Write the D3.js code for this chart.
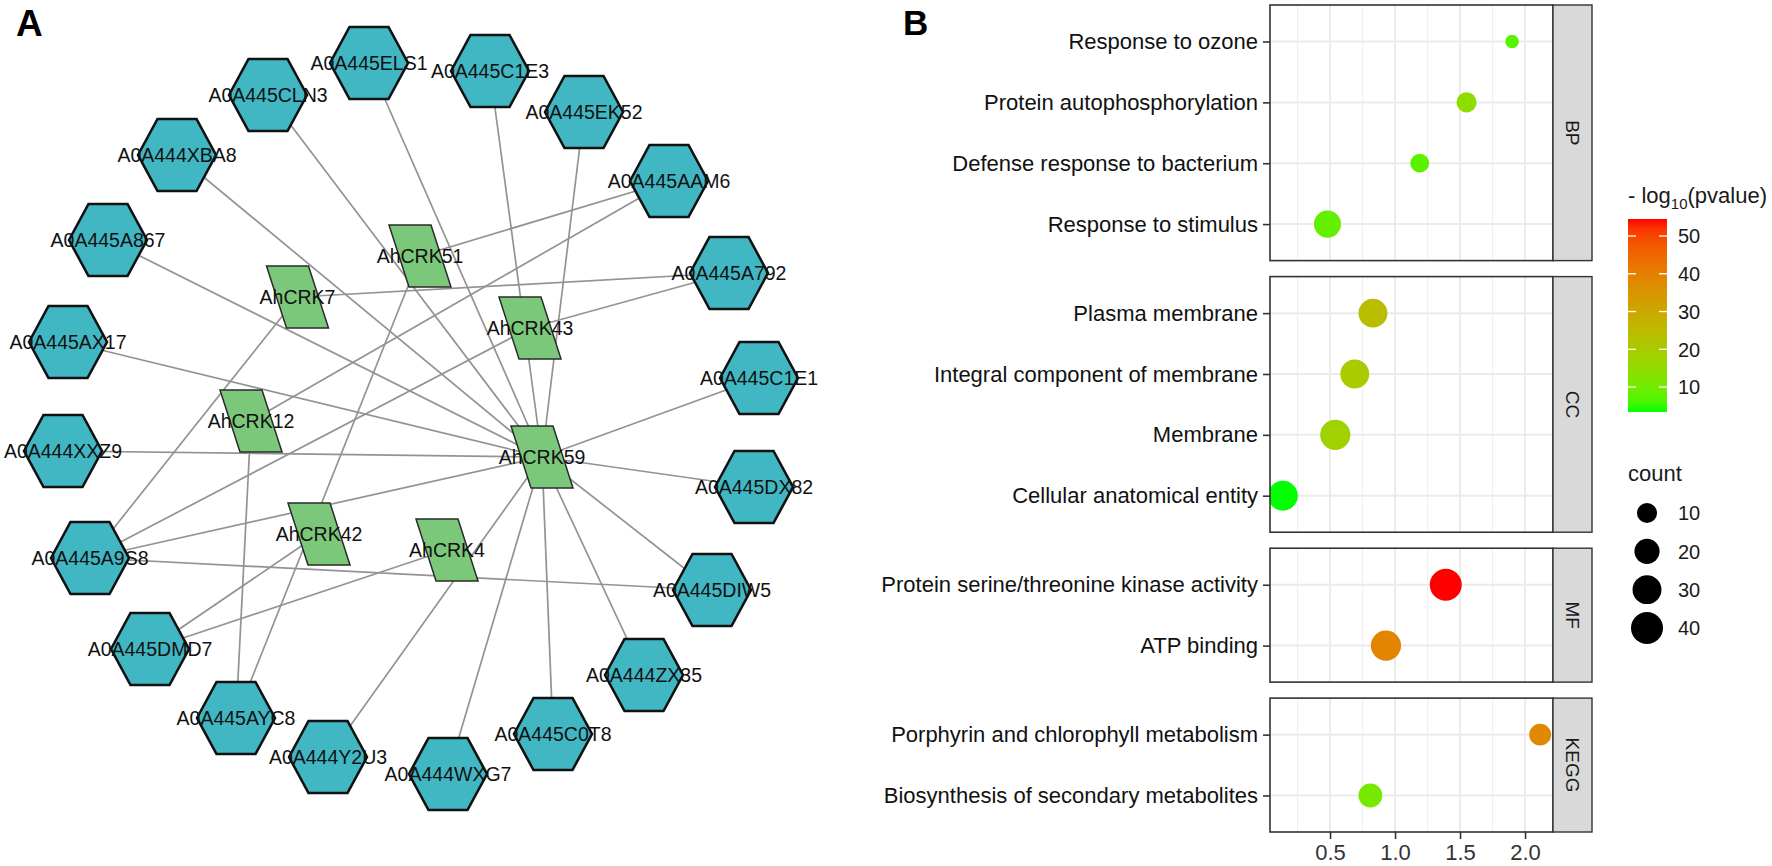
<!DOCTYPE html>
<html>
<head>
<meta charset="utf-8">
<script src="https://cdn.jsdelivr.net/npm/d3@7"></script>
<style>
  body { margin: 0; background: #fff; }
  svg { display: block; }
  text { font-family: "Liberation Sans", Arial, sans-serif; }
</style>
</head>
<body>
<div id="chart"></div>
<script>
// =============================================================================
// PANEL A DATA: CRK hubs, target proteins, layout (layout units) and edges
// =============================================================================

const hubNames = ["AhCRK51", "AhCRK7", "AhCRK43", "AhCRK12", "AhCRK59", "AhCRK42", "AhCRK4"];
const hubX     = [42.0, 29.75, 53.0, 25.1, 54.2, 31.9, 44.7];
const hubY     = [25.6, 29.7, 32.8, 42.1, 45.7, 53.4, 55.0];

const targetNames = [
  "A0A445ELS1", "A0A445CLN3", "A0A444XBA8", "A0A445A867", "A0A445AX17",
  "A0A444XXZ9", "A0A445A9S8", "A0A445DMD7", "A0A445AYC8", "A0A444Y2U3",
  "A0A444WXG7", "A0A445C0T8", "A0A444ZX35", "A0A445DIW5", "A0A445DX82",
  "A0A445C1E1", "A0A445A792", "A0A445AAM6", "A0A445EK52", "A0A445C1E3"
];
const targetX = [36.9, 26.8, 17.7, 10.8, 6.8, 6.3, 9.0, 15.0, 23.6, 32.8,
                 44.8, 55.3, 64.4, 71.2, 75.4, 75.9, 72.9, 66.9, 58.4, 49.0];
const targetY = [6.3, 9.5, 15.5, 24.0, 34.2, 45.1, 55.8, 64.9, 71.8, 75.7,
                 77.4, 73.4, 67.5, 59.0, 48.7, 37.8, 27.3, 18.1, 11.2, 7.1];

const edges = [
  ["AhCRK59", "A0A445ELS1"], ["AhCRK59", "A0A445CLN3"], ["AhCRK59", "A0A444XBA8"],
  ["AhCRK59", "A0A445A867"], ["AhCRK59", "A0A445AX17"], ["AhCRK59", "A0A444XXZ9"],
  ["AhCRK59", "A0A445A9S8"], ["AhCRK59", "A0A445C1E3"], ["AhCRK59", "A0A445EK52"],
  ["AhCRK59", "A0A445C1E1"], ["AhCRK59", "A0A445DX82"], ["AhCRK59", "A0A445DIW5"],
  ["AhCRK59", "A0A444ZX35"], ["AhCRK59", "A0A445C0T8"], ["AhCRK59", "A0A444WXG7"],
  ["AhCRK59", "A0A444Y2U3"],
  ["AhCRK51", "A0A445AAM6"], ["AhCRK51", "A0A445AYC8"],
  ["AhCRK7",  "A0A445A792"], ["AhCRK7",  "A0A445A9S8"],
  ["AhCRK43", "A0A445A792"], ["AhCRK43", "A0A445A9S8"],
  ["AhCRK12", "A0A445AAM6"], ["AhCRK12", "A0A445AYC8"],
  ["AhCRK42", "A0A445DMD7"],
  ["AhCRK4",  "A0A445DMD7"],
  ["A0A445A9S8", "A0A445DIW5"]
];

// =============================================================================
// PANEL B DATA: enrichment terms
// =============================================================================

const termNames = [
  "Response to ozone", "Protein autophosphorylation", "Defense response to bacterium", "Response to stimulus",
  "Plasma membrane", "Integral component of membrane", "Membrane", "Cellular anatomical entity",
  "Protein serine/threonine kinase activity", "ATP binding",
  "Porphyrin and chlorophyll metabolism", "Biosynthesis of secondary metabolites"
];
const termGroup  = ["BP", "BP", "BP", "BP", "CC", "CC", "CC", "CC", "MF", "MF", "KEGG", "KEGG"];
const groupNames = ["BP", "CC", "MF", "KEGG"];
const richX      = [1.90, 1.55, 1.19, 0.48, 0.83, 0.69, 0.54, 0.137, 1.39, 0.93, 2.116, 0.81];
const termCount  = [3, 10, 8, 25, 30, 30, 34, 33, 40, 34, 13, 17];
const negLogP    = [7, 14.5, 7.5, 8.5, 24, 20, 18, 3.4, 54.5, 39, 38, 11];

const xTicks      = [0.5, 1.0, 1.5, 2.0];
const xMinorTicks = [0.25, 0.75, 1.25, 1.75];
const colorBreaks = [10, 20, 30, 40, 50];
const sizeBreaks  = [10, 20, 30, 40];

// =============================================================================
// SVG
// =============================================================================

const W = 1772, H = 866;
const svg = d3.select("#chart").append("svg")
  .attr("width", W).attr("height", H);

svg.append("text").attr("x", 16).attr("y", 36)
  .style("font-size", "37px").style("font-weight", "bold").text("A");
svg.append("text").attr("x", 903).attr("y", 35)
  .style("font-size", "35px").style("font-weight", "bold").text("B");

// =============================================================================
// PANEL A: network
// =============================================================================

const xA = d3.scaleLinear().domain([0, 80]).range([0, 800]);
const yA = d3.scaleLinear().domain([0, 80]).range([0, 800]);

const nodes = [];
hubNames.forEach((n, i) => nodes.push({ name: n, kind: "hub", x: hubX[i], y: hubY[i] }));
targetNames.forEach((n, i) => nodes.push({ name: n, kind: "target", x: targetX[i], y: targetY[i] }));
const byName = new Map(nodes.map(d => [d.name, d]));

const net = svg.append("g");

net.selectAll(".edge")
  .data(edges)
  .enter().append("line")
  .attr("x1", d => xA(byName.get(d[0]).x))
  .attr("y1", d => yA(byName.get(d[0]).y))
  .attr("x2", d => xA(byName.get(d[1]).x))
  .attr("y2", d => yA(byName.get(d[1]).y))
  .attr("stroke", "#939393")
  .attr("stroke-width", 1.7);

const hexPts  = [[-39, 0], [-19.5, -36], [19.5, -36], [39, 0], [19.5, 36], [-19.5, 36]];
const paraPts = [[-31, -31], [11, -31], [31, 31], [-11, 31]];
const poly = d3.line().curve(d3.curveLinearClosed);

const nodeG = net.selectAll(".node")
  .data(nodes)
  .enter().append("g")
  .attr("transform", d => `translate(${xA(d.x)},${yA(d.y)})`);

nodeG.append("path")
  .attr("d", d => poly(d.kind === "hub" ? paraPts : hexPts))
  .attr("fill", d => d.kind === "hub" ? "#7bc87b" : "#41b7c4")
  .attr("stroke", d => d.kind === "hub" ? "#2a2a2a" : "#111")
  .attr("stroke-width", d => d.kind === "hub" ? 1.5 : 2.6);

nodeG.append("text")
  .attr("text-anchor", "middle")
  .attr("dy", "0.36em")
  .style("font-size", "19.5px")
  .style("fill", "#111")
  .text(d => d.name);

// =============================================================================
// PANEL B: faceted bubble chart
// =============================================================================

const panelL = 1270, panelR = 1553, stripW = 39;
const plotTop = 5, plotBottom = 832, gap = 16, pad = 0.6;

const terms = termNames.map((t, i) => ({
  term: t, group: termGroup[i], x: richX[i], count: termCount[i], p: negLogP[i]
}));

// x scale with ggplot-style 5% expansion
const xExt = d3.extent(richX);
const xSpan = xExt[1] - xExt[0];
const xB = d3.scaleLinear()
  .domain([xExt[0] - 0.05 * xSpan, xExt[1] + 0.05 * xSpan])
  .range([panelL, panelR]);

const color = d3.scaleLinear()
  .domain(d3.extent(negLogP))
  .range(["#00ff00", "#ff0000"])
  .interpolate(d3.interpolateLab);

// ggplot area palette: diameter grows with sqrt of rescaled count
const cExt = [2, 40];
const diamLin = d3.scaleLinear().domain([0, 1]).range([10, 32]);
const diam = c => diamLin(Math.sqrt((c - cExt[0]) / (cExt[1] - cExt[0])));

// facet heights proportional to number of categories (space = "free")
const nPer = groupNames.map(g => termGroup.filter(v => v === g).length);
const units = nPer.map(n => n - 1 + 2 * pad);
const unitPx = (plotBottom - plotTop - gap * (groupNames.length - 1)) / d3.sum(units);

let yCursor = plotTop;
groupNames.forEach((g, gi) => {
  const top = yCursor;
  const bottom = top + units[gi] * unitPx;
  yCursor = bottom + gap;

  const cats = terms.filter(d => d.group === g).map(d => d.term);
  const yB = d3.scalePoint().domain(cats).range([top, bottom]).padding(pad);

  const pg = svg.append("g");

  const clipId = "clip-" + g;
  pg.append("clipPath").attr("id", clipId)
    .append("rect")
    .attr("x", panelL).attr("y", top)
    .attr("width", panelR - panelL).attr("height", bottom - top);

  // minor grid
  pg.selectAll(".gminor").data(xMinorTicks).enter().append("line")
    .attr("x1", d => xB(d)).attr("x2", d => xB(d))
    .attr("y1", top).attr("y2", bottom)
    .attr("stroke", "#f0f0f0").attr("stroke-width", 1.2);

  // major grid
  pg.selectAll(".gmajor").data(xTicks).enter().append("line")
    .attr("x1", d => xB(d)).attr("x2", d => xB(d))
    .attr("y1", top).attr("y2", bottom)
    .attr("stroke", "#ebebeb").attr("stroke-width", 2);

  pg.selectAll(".gy").data(cats).enter().append("line")
    .attr("x1", panelL).attr("x2", panelR)
    .attr("y1", d => yB(d)).attr("y2", d => yB(d))
    .attr("stroke", "#ebebeb").attr("stroke-width", 2);

  // points
  pg.append("g").attr("clip-path", `url(#${clipId})`)
    .selectAll("circle")
    .data(terms.filter(d => d.group === g))
    .enter().append("circle")
    .attr("cx", d => xB(d.x))
    .attr("cy", d => yB(d.term))
    .attr("r", d => diam(d.count) / 2)
    .attr("fill", d => color(d.p));

  // panel border
  pg.append("rect")
    .attr("x", panelL).attr("y", top)
    .attr("width", panelR - panelL).attr("height", bottom - top)
    .attr("fill", "none").attr("stroke", "#333").attr("stroke-width", 1.6);

  // y axis
  const ya = pg.append("g")
    .attr("transform", `translate(${panelL},0)`)
    .call(d3.axisLeft(yB).tickSize(7).tickPadding(5));
  ya.select(".domain").remove();
  ya.selectAll(".tick line").attr("stroke", "#333").attr("stroke-width", 1.6);
  ya.selectAll(".tick text")
    .style("font-size", "22px").style("fill", "#111")
    .style("font-family", '"Liberation Sans", Arial, sans-serif');

  // strip
  pg.append("rect")
    .attr("x", panelR).attr("y", top)
    .attr("width", stripW).attr("height", bottom - top)
    .attr("fill", "#d9d9d9").attr("stroke", "#333").attr("stroke-width", 1.4);
  pg.append("text")
    .attr("transform", `translate(${panelR + stripW / 2},${(top + bottom) / 2}) rotate(90)`)
    .attr("text-anchor", "middle").attr("dy", "0.35em")
    .style("font-size", "19px").style("fill", "#1a1a1a")
    .text(g);
});

// x axis under the last facet
const xa = svg.append("g")
  .attr("transform", `translate(0,${plotBottom})`)
  .call(d3.axisBottom(xB).tickValues(xTicks).tickFormat(d3.format(".1f")).tickSize(7).tickPadding(5));
xa.select(".domain").remove();
xa.selectAll(".tick line").attr("stroke", "#333").attr("stroke-width", 1.6);
xa.selectAll(".tick text")
  .style("font-size", "22px").style("fill", "#333")
  .style("font-family", '"Liberation Sans", Arial, sans-serif');

// =============================================================================
// LEGENDS
// =============================================================================

const legX = 1628;

const t1 = svg.append("text").attr("x", legX).attr("y", 203).style("font-size", "22px").style("fill", "#1a1a1a");
t1.append("tspan").text("- log");
t1.append("tspan").attr("dy", 6).style("font-size", "15px").text("10");
t1.append("tspan").attr("dy", -6).text("(pvalue)");

const barTop = 219, barBottom = 412, barW = 39;
const pExt = d3.extent(negLogP);
const yBar = d3.scaleLinear().domain(pExt).range([barBottom, barTop]);

const grad = svg.append("defs").append("linearGradient")
  .attr("id", "pgrad").attr("x1", 0).attr("y1", 1).attr("x2", 0).attr("y2", 0);
d3.range(0, 1.0001, 0.05).forEach(t => {
  grad.append("stop").attr("offset", t)
    .attr("stop-color", color(pExt[0] + t * (pExt[1] - pExt[0])));
});

svg.append("rect")
  .attr("x", legX).attr("y", barTop).attr("width", barW).attr("height", barBottom - barTop)
  .attr("fill", "url(#pgrad)");

const cb = svg.append("g").selectAll("g").data(colorBreaks).enter().append("g");
cb.append("line")
  .attr("x1", legX).attr("x2", legX + 8)
  .attr("y1", d => yBar(d)).attr("y2", d => yBar(d))
  .attr("stroke", "#fff").attr("stroke-width", 1.3);
cb.append("line")
  .attr("x1", legX + barW - 8).attr("x2", legX + barW)
  .attr("y1", d => yBar(d)).attr("y2", d => yBar(d))
  .attr("stroke", "#fff").attr("stroke-width", 1.3);
cb.append("text")
  .attr("x", legX + 50).attr("y", d => yBar(d)).attr("dy", "0.36em")
  .style("font-size", "20px").style("fill", "#1a1a1a")
  .text(d => d);

svg.append("text").attr("x", legX).attr("y", 481)
  .style("font-size", "22px").style("fill", "#1a1a1a").text("count");

const yKey = d3.scalePoint().domain(sizeBreaks).range([513, 628]);
const sk = svg.append("g").selectAll("g").data(sizeBreaks).enter().append("g");
sk.append("circle")
  .attr("cx", legX + 19).attr("cy", d => yKey(d))
  .attr("r", d => diam(d) / 2).attr("fill", "#000");
sk.append("text")
  .attr("x", legX + 50).attr("y", d => yKey(d)).attr("dy", "0.36em")
  .style("font-size", "20px").style("fill", "#1a1a1a")
  .text(d => d);
</script>
</body>
</html>
